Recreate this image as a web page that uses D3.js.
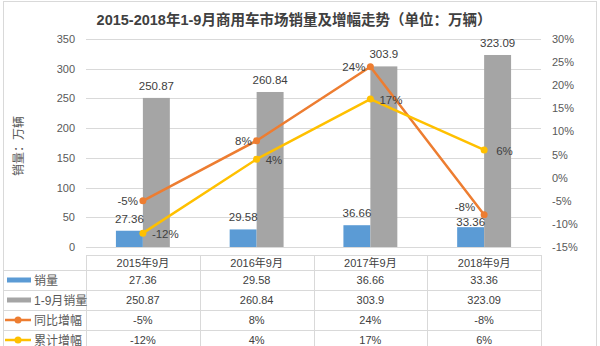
<!DOCTYPE html>
<html>
<head>
<meta charset="utf-8">
<script src="https://cdn.jsdelivr.net/npm/d3@7"></script>
<style>
  html, body { margin: 0; padding: 0; background: #fff; }
  svg { display: block; font-family: "Liberation Sans", "Noto Sans CJK SC", sans-serif; }
</style>
</head>
<body>
<svg id="chart" width="600" height="346"></svg>
<script>
const title = "2015-2018年1-9月商用车市场销量及增幅走势（单位：万辆）";
const yAxisTitle = "销量：万辆";
const categories = ["2015年9月", "2016年9月", "2017年9月", "2018年9月"];
const monthSales = [27.36, 29.58, 36.66, 33.36];
const ytdSales = [250.87, 260.84, 303.9, 323.09];
const yoyGrowth = [-5, 8, 24, -8];
const cumGrowth = [-12, 4, 17, 6];
const leftTicks = [0, 50, 100, 150, 200, 250, 300, 350];
const rightTicks = [-15, -10, -5, 0, 5, 10, 15, 20, 25, 30];
const seriesNames = ["销量", "1-9月销量", "同比增幅", "累计增幅"];
const monthSalesText = ["27.36", "29.58", "36.66", "33.36"];
const ytdSalesText = ["250.87", "260.84", "303.9", "323.09"];

const colors = { blue: "#5b9bd5", grey: "#a5a5a5", orange: "#ed7d31", yellow: "#ffc000" };
const svg = d3.select("#chart");

const plotL = 86, plotR = 541, plotT = 39, plotB = 247;
const x = d3.scaleBand().domain(categories).range([plotL, plotR]).padding(0);
const y = d3.scaleLinear().domain([0, 350]).range([plotB, plotT]);
const y2 = d3.scaleLinear().domain([-15, 30]).range([plotB, plotT]);
const barW = x.bandwidth() * 0.237;
const cx = c => x(c) + x.bandwidth() / 2;

// chart border
svg.append("rect").attr("x", 3.5).attr("y", 1.5).attr("width", 593).attr("height", 350)
  .attr("fill", "none").attr("stroke", "#d9d9d9");

// title
svg.append("text").attr("x", 294).attr("y", 25).attr("text-anchor", "middle")
  .attr("font-size", 14.5).attr("font-weight", "bold").attr("fill", "#404040").text(title);

// gridlines
svg.append("g").selectAll("line").data(leftTicks).join("line")
  .attr("x1", plotL).attr("x2", plotR)
  .attr("y1", d => Math.round(y(d)) + 0.5).attr("y2", d => Math.round(y(d)) + 0.5)
  .attr("stroke", "#d9d9d9").attr("stroke-width", 1);

// left axis
const leftAxis = d3.axisLeft(y).tickValues(leftTicks).tickSize(0).tickPadding(11);
const gl = svg.append("g").attr("transform", `translate(${plotL},0)`).call(leftAxis);
gl.select(".domain").remove();
gl.selectAll("text").attr("font-size", 11).attr("fill", "#595959").attr("font-family", "Liberation Sans, sans-serif");

// right axis
const rightAxis = d3.axisRight(y2).tickValues(rightTicks).tickSize(0).tickPadding(11).tickFormat(d => d + "%");
const gr = svg.append("g").attr("transform", `translate(${plotR},0)`).call(rightAxis);
gr.select(".domain").remove();
gr.selectAll("text").attr("font-size", 11).attr("fill", "#595959").attr("font-family", "Liberation Sans, sans-serif");

// y axis title
svg.append("text").attr("transform", "translate(23,146) rotate(-90)")
  .attr("text-anchor", "middle").attr("font-size", 12).attr("fill", "#595959")
  .attr("font-family", "Noto Sans CJK SC, sans-serif").text(yAxisTitle);

// bars
svg.append("g").selectAll("rect").data(categories).join("rect")
  .attr("x", d => cx(d) - barW).attr("width", barW)
  .attr("y", (d, i) => y(monthSales[i])).attr("height", (d, i) => plotB - y(monthSales[i]))
  .attr("fill", colors.blue);
svg.append("g").selectAll("rect").data(categories).join("rect")
  .attr("x", d => cx(d)).attr("width", barW)
  .attr("y", (d, i) => y(ytdSales[i])).attr("height", (d, i) => plotB - y(ytdSales[i]))
  .attr("fill", colors.grey);

// bar labels
const lblFont = 11.5, lblColor = "#404040";
svg.append("g").selectAll("text").data(categories).join("text")
  .attr("x", d => cx(d) - barW / 2).attr("y", (d, i) => y(monthSales[i]) - (i === 3 ? 1.5 : 8))
  .attr("text-anchor", "middle").attr("font-size", lblFont).attr("fill", lblColor)
  .text((d, i) => monthSalesText[i]);
svg.append("g").selectAll("text").data(categories).join("text")
  .attr("x", d => cx(d) + barW / 2).attr("y", (d, i) => y(ytdSales[i]) - 8)
  .attr("text-anchor", "middle").attr("font-size", lblFont).attr("fill", lblColor)
  .text((d, i) => ytdSalesText[i]);

// lines
const lineGen = vals => d3.line().x((d, i) => cx(categories[i])).y(d => y2(d))(vals);
svg.append("path").attr("d", lineGen(yoyGrowth)).attr("fill", "none")
  .attr("stroke", colors.orange).attr("stroke-width", 2.5).attr("stroke-linejoin", "round");
svg.append("path").attr("d", lineGen(cumGrowth)).attr("fill", "none")
  .attr("stroke", colors.yellow).attr("stroke-width", 2.5).attr("stroke-linejoin", "round");
svg.append("g").selectAll("circle").data(yoyGrowth).join("circle")
  .attr("cx", (d, i) => cx(categories[i])).attr("cy", d => y2(d)).attr("r", 3.5)
  .attr("fill", colors.orange);
svg.append("g").selectAll("circle").data(cumGrowth).join("circle")
  .attr("cx", (d, i) => cx(categories[i])).attr("cy", d => y2(d)).attr("r", 3.5)
  .attr("fill", colors.yellow);

// line labels
svg.append("g").selectAll("text").data(yoyGrowth).join("text")
  .attr("x", (d, i) => cx(categories[i]) - (i === 3 ? 9 : 5))
  .attr("y", (d, i) => y2(d) + (i === 3 ? -4 : 4))
  .attr("text-anchor", "end").attr("font-size", lblFont).attr("fill", lblColor)
  .text(d => d + "%");
svg.append("g").selectAll("text").data(cumGrowth).join("text")
  .attr("x", (d, i) => cx(categories[i]) + (i === 3 ? 12 : 9))
  .attr("y", d => y2(d) + 5)
  .attr("text-anchor", "start").attr("font-size", lblFont).attr("fill", lblColor)
  .text(d => d + "%");

// data table
const tblTop = 255, rowH = 20, hdrH = 15;
const rowYs = [tblTop + hdrH, tblTop + hdrH + rowH, tblTop + hdrH + 2 * rowH, tblTop + hdrH + 3 * rowH];
const tableColor = "#d9d9d9";
const tg = svg.append("g");
tg.append("line").attr("x1", plotL).attr("x2", plotR).attr("y1", tblTop + 0.5).attr("y2", tblTop + 0.5)
  .attr("stroke", tableColor);
tg.selectAll("line.h").data(rowYs).join("line").attr("class", "h")
  .attr("x1", 4).attr("x2", plotR).attr("y1", d => d + 0.5).attr("y2", d => d + 0.5)
  .attr("stroke", tableColor);
const colEdges = categories.map(c => x(c)).concat([plotR]);
tg.selectAll("line.v").data(colEdges).join("line").attr("class", "v")
  .attr("x1", d => Math.round(d) + 0.5).attr("x2", d => Math.round(d) + 0.5)
  .attr("y1", tblTop).attr("y2", 346).attr("stroke", tableColor);

// header
tg.selectAll("text.hdr").data(categories).join("text").attr("class", "hdr")
  .attr("x", d => cx(d)).attr("y", tblTop + hdrH / 2 + 4)
  .attr("text-anchor", "middle").attr("font-size", 11).attr("fill", "#404040")
  .text(d => d);

const rowsText = [
  monthSalesText,
  ytdSalesText,
  yoyGrowth.map(d => d + "%"),
  cumGrowth.map(d => d + "%")
];
rowsText.forEach((vals, r) => {
  tg.append("g").selectAll("text").data(vals).join("text")
    .attr("x", (d, i) => cx(categories[i])).attr("y", rowYs[r] + rowH / 2 + 4)
    .attr("text-anchor", "middle").attr("font-size", 11).attr("fill", "#404040")
    .text(d => d);
});

// legend keys in table
const keyX0 = 7, keyX1 = 31;
seriesNames.forEach((name, r) => {
  const cy = rowYs[r] + rowH / 2;
  if (r < 2) {
    tg.append("rect").attr("x", keyX0).attr("y", cy - 2.5).attr("width", keyX1 - keyX0).attr("height", 5)
      .attr("fill", r === 0 ? colors.blue : colors.grey);
  } else {
    const c = r === 2 ? colors.orange : colors.yellow;
    tg.append("line").attr("x1", keyX0 - 2).attr("x2", keyX1).attr("y1", cy).attr("y2", cy)
      .attr("stroke", c).attr("stroke-width", 2.5);
    tg.append("circle").attr("cx", (keyX0 + keyX1) / 2 - 1).attr("cy", cy).attr("r", 3.5).attr("fill", c);
  }
  tg.append("text").attr("x", keyX1 + 3).attr("y", cy + 4.5)
    .attr("font-size", 12).attr("fill", "#595959").text(name);
});
</script>
</body>
</html>
